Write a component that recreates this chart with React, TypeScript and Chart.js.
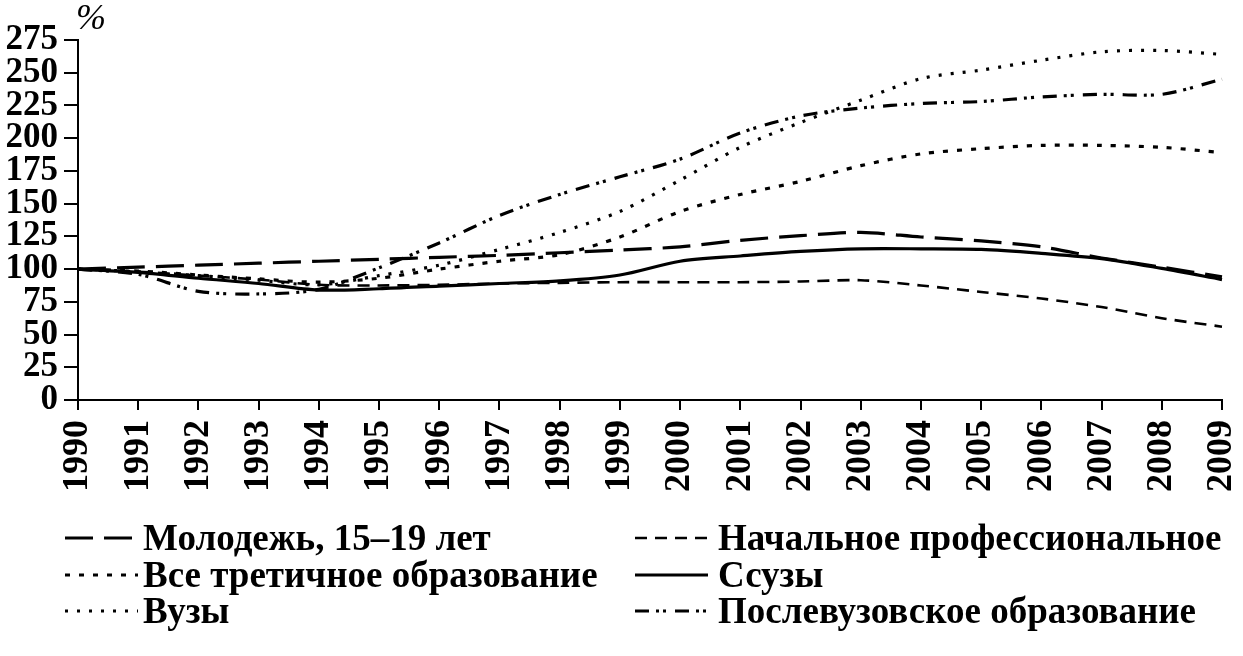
import { useEffect, useRef } from 'react';
import { Chart, registerables } from 'chart.js';

Chart.register(...registerables);

const years = [
  '1990', '1991', '1992', '1993', '1994', '1995', '1996', '1997', '1998', '1999',
  '2000', '2001', '2002', '2003', '2004', '2005', '2006', '2007', '2008', '2009',
];

// index, 1990 = 100
const youth = [100, 101.5, 103, 104.5, 106, 107.5, 109, 110.5, 112.5, 114.5, 117, 122, 125.5, 128, 124.5, 121.5, 117, 108.5, 101.5, 94];
const tertiary = [100, 98.5, 95.5, 92.5, 90, 93, 100, 106, 111, 124.5, 144, 157, 167, 179, 188, 192, 194.5, 194.5, 193, 189];
const universities = [100, 98, 95, 91.5, 88, 95, 103, 115, 128, 144, 168, 193, 212, 229, 245.5, 252, 259.5, 266, 267, 264];
const primaryVoc = [100, 98, 95, 92, 88, 87.5, 88, 89, 89.5, 90, 90, 90, 90.5, 91.5, 87.5, 82.5, 77.5, 71, 62.5, 56];
const colleges = [100, 97.5, 93, 89, 84, 85, 87, 89, 91, 95.5, 106, 110, 113.5, 115.5, 115.5, 115, 112, 108, 100.5, 92];
const postgrad = [100, 96, 83, 81, 84.5, 101, 120, 141, 157, 170.5, 184, 204, 217, 223, 226.5, 228, 231.5, 233.5, 233.5, 245];

const yTicks = [0, 25, 50, 75, 100, 125, 150, 175, 200, 225, 250, 275];

const FONT = '"Liberation Serif", "Times New Roman", serif';

// legend drawn under the axis, two columns of three rows
const legendPlugin = {
  id: 'dashLegend',
  afterDraw(chart: any) {
    const ctx = chart.ctx;
    const area = chart.chartArea;
    ctx.save();
    ctx.fillStyle = '#000';
    ctx.font = `italic 36px ${FONT}`;
    ctx.textBaseline = 'alphabetic';
    ctx.fillText('%', area.left - 2, area.top - 11);

    const sampleX = [65, 635];
    const textX = [143, 718];
    const rowY = [538, 575, 611];
    ctx.font = `bold 37px ${FONT}`;
    ctx.textBaseline = 'middle';
    chart.data.datasets.forEach((ds: any, i: number) => {
      const col = Math.floor(i / 3);
      const row = i % 3;
      const y = rowY[row];
      ctx.save();
      ctx.strokeStyle = '#000';
      ctx.lineWidth = ds.borderWidth;
      ctx.setLineDash(ds.borderDash || []);
      ctx.beginPath();
      ctx.moveTo(sampleX[col], y);
      ctx.lineTo(sampleX[col] + 73, y);
      ctx.stroke();
      ctx.restore();
      ctx.fillText(ds.label, textX[col], y + 2);
    });
    ctx.restore();
  },
};

export default function App() {
  const canvasRef = useRef<HTMLCanvasElement>(null);
  const chartRef = useRef<Chart | null>(null);

  useEffect(() => {
    if (!canvasRef.current) return;
    if (chartRef.current) chartRef.current.destroy();

    const line = (label: string, data: number[], dash: number[], width = 3.2) => ({
      label,
      data,
      borderColor: '#000',
      backgroundColor: '#000',
      borderWidth: width,
      borderDash: dash,
      pointRadius: 0,
      tension: 0.3,
      fill: false,
    });

    chartRef.current = new Chart(canvasRef.current, {
      type: 'line',
      data: {
        labels: years,
        datasets: [
          line('Молодежь, 15–19 лет', youth, [28, 11]),
          line('Все третичное образование', tertiary, [5, 9]),
          line('Вузы', universities, [3, 9]),
          line('Начальное профессиональное', primaryVoc, [12, 8], 2.6),
          line('Ссузы', colleges, []),
          line('Послевузовское образование', postgrad, [14, 7, 3, 4, 3, 9]),
        ],
      },
      plugins: [legendPlugin],
      options: {
        responsive: true,
        maintainAspectRatio: false,
        animation: false,
        layout: { padding: { top: 40, bottom: 156, left: 0, right: 21 } },
        plugins: {
          legend: { display: false },
          tooltip: { enabled: false },
        },
        scales: {
          x: {
            offset: false,
            afterFit: (scale: any) => {
              scale.height = 100;
              scale.paddingLeft = 0;
              scale.paddingRight = 0;
            },
            border: { display: true, color: '#000', width: 2 },
            grid: { drawOnChartArea: false, color: '#000', lineWidth: 2, tickLength: 10 },
            ticks: {
              color: '#000',
              font: { family: FONT, size: 36, weight: 'bold' },
              maxRotation: 90,
              minRotation: 90,
              autoSkip: false,
              padding: 10,
            },
          },
          y: {
            min: 0,
            max: 275,
            afterFit: (scale: any) => {
              scale.width = 78;
              scale.paddingTop = 0;
              scale.paddingBottom = 0;
            },
            afterBuildTicks: (scale: any) => {
              scale.ticks = yTicks.map((v) => ({ value: v }));
            },
            border: { display: true, color: '#000', width: 2 },
            grid: { drawOnChartArea: false, color: '#000', lineWidth: 2, tickLength: 14 },
            ticks: {
              color: '#000',
              font: { family: FONT, size: 35, weight: 'bold' },
              autoSkip: false,
              padding: 6,
            },
          },
        },
      },
    });

    return () => {
      if (chartRef.current) {
        chartRef.current.destroy();
        chartRef.current = null;
      }
    };
  }, []);

  return (
    <div style={{ position: 'absolute', left: 0, top: 0, width: 1243, height: 656, background: '#fff' }}>
      <canvas ref={canvasRef} />
    </div>
  );
}
